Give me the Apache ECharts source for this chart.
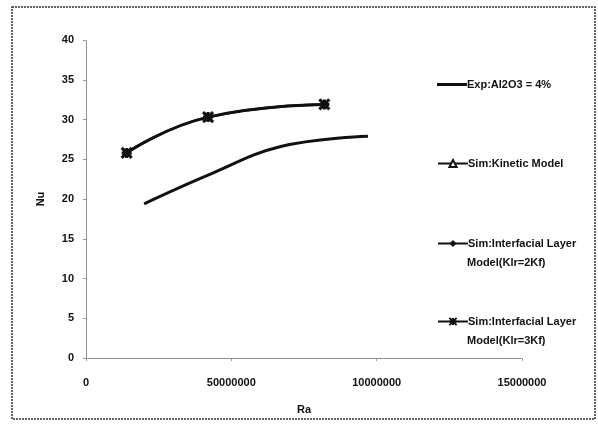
<!DOCTYPE html>
<html><head><meta charset="utf-8">
<script src="https://cdn.jsdelivr.net/npm/echarts@6/dist/echarts.min.js"></script>
<style>html,body{margin:0;padding:0;background:#fff}#c{width:598px;height:425px}</style>
</head><body><div id="c"></div>
<script>
const xTickLabels = ["0", "50000000", "10000000", "15000000"];
const seriesNames = ["Exp:Al2O3 = 4%", "Sim:Kinetic Model", "Sim:Interfacial Layer\nModel(Klr=2Kf)", "Sim:Interfacial Layer\nModel(Klr=3Kf)"];
const expRa = [2000000, 4200000, 6700000, 9700000];
const expNu = [19.4, 23.0, 26.6, 27.9];
const simRa = [1400000, 4200000, 8200000];
const kineticNu = [25.8, 30.3, 31.9];
const klr2Nu = [25.8, 30.3, 31.9];
const klr3Nu = [25.8, 30.3, 31.9];

const font = '"Liberation Sans Narrow", "Liberation Sans", Arial, sans-serif';
const pair = (xs, ys) => xs.map((x, i) => [x, ys[i]]);
const chart = echarts.init(document.getElementById('c'));
const legendTops = [75, 154, 234, 312];
const starPath = 'path://M0,0L10,10M10,0L0,10M5,0L5,10M0,5L10,5';
const txt = { fontSize: 11, fontWeight: 'bold', color: '#111', fontFamily: font };
const lg = (i, extra) => Object.assign({
  data: [seriesNames[i]],
  left: 437, top: legendTops[i], orient: 'vertical', padding: 0,
  itemWidth: 30, itemHeight: 9, itemGap: 0,
  formatter: n => n.split('\n')[0],
  textStyle: Object.assign({}, txt, { lineHeight: 19, padding: [0, 0, 0, -5] })
}, extra || {});
const secondLines = [2, 3].map(i => ({
  type: 'text', left: 467, top: legendTops[i] + 23,
  style: { text: seriesNames[i].split('\n')[1], font: 'bold 11px ' + font, fill: '#111' }
}));
chart.setOption({
  animation: false,
  backgroundColor: '#fff',
  textStyle: { fontFamily: font },
  grid: { left: 86, right: 76, top: 40, bottom: 67 },
  graphic: [{
    type: 'rect', shape: { x: 12, y: 7, width: 583, height: 412 },
    style: { fill: 'none', stroke: '#333', lineWidth: 1.5, lineDash: [2, 1] }, z: -1
  }].concat(secondLines),
  xAxis: {
    type: 'value', min: 0, max: 15000000, interval: 5000000,
    name: 'Ra', nameLocation: 'middle', nameGap: 46,
    nameTextStyle: txt,
    axisLine: { lineStyle: { color: '#777', type: 'dotted', width: 1 } },
    axisTick: { show: true, length: 3, lineStyle: { color: '#999' } },
    splitLine: { show: false },
    axisLabel: Object.assign({ margin: 19, formatter: v => xTickLabels[Math.round(v / 5000000)] }, txt)
  },
  yAxis: {
    type: 'value', min: 0, max: 40, interval: 5,
    name: 'Nu', nameLocation: 'middle', nameGap: 40, nameRotate: 90,
    nameTextStyle: txt,
    axisLine: { show: true, lineStyle: { color: '#777', type: 'dotted', width: 1 } },
    axisTick: { show: true, length: 3, lineStyle: { color: '#999' } },
    splitLine: { show: false },
    axisLabel: Object.assign({ margin: 12 }, txt)
  },
  legend: [
    lg(0, { data: [{ name: seriesNames[0], icon: 'rect' }], itemHeight: 3 }),
    lg(1), lg(2), lg(3)
  ],
  series: [
    { name: seriesNames[0], type: 'line', smooth: 0.4, showSymbol: false, symbol: 'none',
      data: pair(expRa, expNu), lineStyle: { color: '#111', width: 3 }, itemStyle: { color: '#111' } },
    { name: seriesNames[1], type: 'line', smooth: true, symbol: 'triangle', symbolSize: 7,
      data: pair(simRa, kineticNu), lineStyle: { color: '#111', width: 1.5 },
      itemStyle: { color: '#fff', borderColor: '#111', borderWidth: 1 } },
    { name: seriesNames[2], type: 'line', smooth: true, symbol: 'diamond', symbolSize: 8,
      data: pair(simRa, klr2Nu), lineStyle: { color: '#111', width: 2.5 }, itemStyle: { color: '#111' } },
    { name: seriesNames[3], type: 'line', smooth: true, symbol: starPath, symbolSize: 10,
      data: pair(simRa, klr3Nu), lineStyle: { color: '#111', width: 3 },
      itemStyle: { color: '#111', borderColor: '#111', borderWidth: 3 } }
  ]
});
</script></body></html>
